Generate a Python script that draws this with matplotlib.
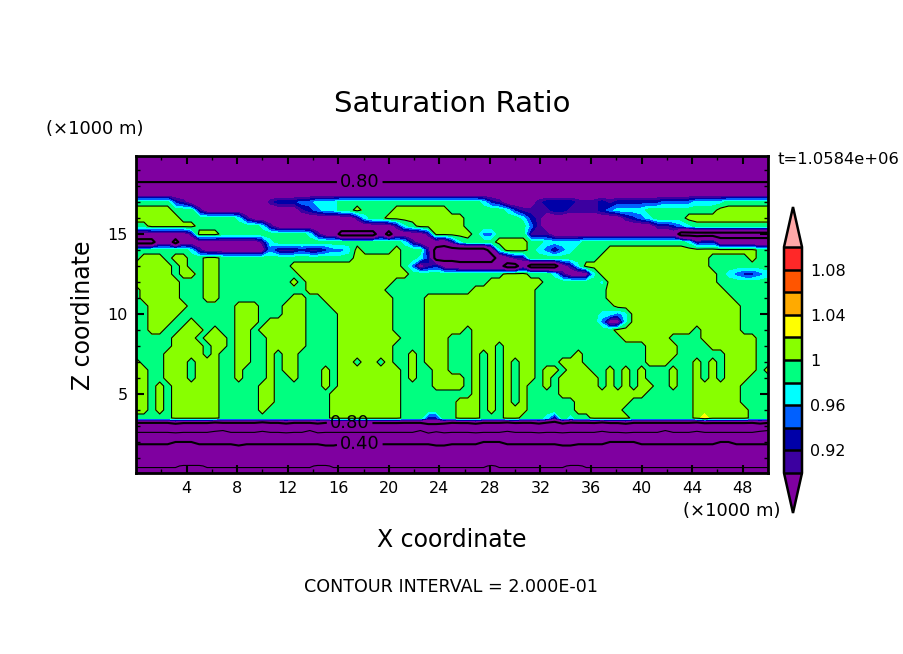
import numpy as np
import matplotlib
matplotlib.use('Agg')
import matplotlib.pyplot as plt
from matplotlib.colors import ListedColormap, BoundaryNorm

# colour bands of the filled contours
levels = [0.90, 0.92, 0.94, 0.96, 0.98, 1.00, 1.02, 1.04, 1.06, 1.08, 1.10]
colors = ['#3c00a0', '#0000a8', '#0060ff', '#00ffff', '#00ff80',
          '#88ff00', '#ffff00', '#ffaa00', '#ff5500', '#ff2828']
under_color = '#7f00a0'
over_color = '#ffa8a8'
thin_levels = [0.2, 0.6, 1.0]
thick_levels = [0.4, 0.8]
cbar_ticks = [0.92, 0.96, 1.0, 1.04, 1.08]
cbar_labels = ['0.92', '0.96', '1', '1.04', '1.08']
x_ticks = [4, 8, 12, 16, 20, 24, 28, 32, 36, 40, 44, 48]
z_ticks = [5, 10, 15]

# saturation ratio, one letter per grid point
ratio = {'A': .18, 'B': .205, 'a': .195, 'C': .27, 'D': .35, 'E': .42, 'e': .40, 'f': .44,
         'F': .58, 'g': .54, 'H': .68, 'I': .72, 'J': .64, 'G': .76,
         'q': .76, 'r': .84, 'p': .87, 'i': .91, 'n': .93, 'b': .95, 'c': .97,
         '.': .99, '#': 1.01, 'y': 1.03}

# top row is z = 20 km, one row every 0.5 km, one column every 0.625 km
rows = [
    'qqqqqqqqqq qqqqqqqqqq qqqqqqqqqq qqqqqqqqqq qqqqqqqqqq qqqqqqqqqq qqqqqqqqqq qqqqqqqqqq q',
    'qqqqqqqqqq qqqqqqqqqq qqqqqqqqqq qqqqqqqqqq qqqqqqqqqq qqqqqqqqqq qqqqqqqqqq qqqqqqqqqq q',
    'qqqqqqqqqq qqqqqqqqqq qqqqqqqqqq qqqqqqqqqq qqqqqqqqqq qqqqqqqqqq qqqqqqqqqq qqqqqqqqqq q',
    'qqqqqqqqqq qqqqqqqqqq qqqqqqqqqq qqqqqqqqqq qqqqqqqqqq qqqqqqqqqq qqqqqqqqqq qqqqqqqqqq q',
    'rrrrrrrrrr rrrrrrrrrr rrrrrrrrrr rrrrrrrrrr rrrrrrrrrr rrrrrrrrrr rrrrrrrrrr rrrrrrrrrr r',
    'pppppppppp pppppppppp pppppppppp pppppppppp pppppppppp pppppppppp pppppppppp pppppppppp p',
    '.....nippp pppppppinn nbbccc.... .......... ....cnippp pinnnniiin innnnnnbbb bcccc..... .',
    '#####...ip pppppppppp pinbcc..#. ...####### .......cni iiinniiiin bcccc..... ....###### #',
    '######.... ...cippppp ppppppppic ..######## ##.......c nipppppppp ppinbc.... ########## #',
    '..######.. ......cipp pppppppppp pppic.#### ##........ bipppppppp ppppppiinb c......... .',
    'pppppppi## #......... ..cippqqqq qpqppppi## ###.bb.... iiippppppp pppppppppq qqqqqqqqqq q',
    'qqqppqpppp ppppppic.. .......... ....cipppr ic....#### ..ccccc... .......... cinnrrrrrr r',
    '.......cip pppppppbii iniinbbc#. ...#...iqq qqqqqrc### .cbibc.... ########## #########. .',
    '.###.##..# #......... ........## ####..cnqq qqqqqqrpii .........# ########## ###.....#. .',
    '#####.#..# #......... ########## ####.bpinp prrrrrrqqp qqqqpic### ########## ###....... .',
    '#####.##.# #......... .######### #####..... .......### ...cipppc# ########## ####.cbnnb c',
    '######...# #......... #.######## ###....... .....##### ##.......c ########## ####...... .',
    '.#####...# #......... ..######## ##........ ...####### #......... ########## #####..... .',
    '.#####...# #......... ##..###### ###....### ########## #......... ########## ######.... .',
    '..#####... ...###...# ##...##### ###....### ########## #......... .######### #######... .',
    '..####.... ...###...# ##....#### ###....### ########## #........c cbc####### #######... .',
    '..###..#.. ...###.### ##....#### ###....### ########## #........b ppc####### #######... .',
    '..##..###. #..##.#### ##....#### ###....### ##.####### #......... .######### #.#####... .',
    '.....###.# ##.##..### ##....#### ####...### ...####### #......... ..######.. ..#######. .',
    '.....####. ##.##..### ##....#### ###....### ...###.### #......... .....####. ...######. .',
    '....#####. #..##..#.# #.....#### ###..#.### ...#.#.### #.....#... .....####. .....####. .',
    '#...###.## #..##..#.# #.....##.# #.#..#.### ...#.#.#.# #...###... .....###.. .#.#.####. .',
    '##..###.## #..#...#.# #...#.#### ####.#..## ...#.#.#.# #.##.###.. #.#.#...#. .#.#.####. #',
    '##..###.## #..#...#.. #...#.#### ####.#..## ##.#.#.#.# #.#.#####. #.#.#...#. .#.#.###.. .',
    '##.#.##### #.....##.. ....#.#### ####....## ##.#.#.#.# ..#.#####. #.#.##..#. .######... .',
    '##.#.##### #.....##.. .....##### ####...... ...#.#.#.# ....###### #####..... .######... .',
    '##.#.##### #.....##.. .....##### ####...... .###.#.#.# ......#### ###....... .######... .',
    '##.#.##### #.....#... .....##### ####...... .###.#.### ......#### ##........ .#######.. .',
    '.....##### #......... .....##### ####...nn. .###...##. ..ci.c..## ###....... .#y#####.. .',
    'HHHHHIHHHH JHHHHHJHHI HHHIHHHHHH HHHHHHHGGI HHHIHHHJHH HIHHIHHHHJ HHIHHHHHHH HJHHHHHHHI H',
    'FFFFFFFFFF FgFFFFFFFF FFgFFFFFFF FFFFFFgFgF FFFFFFFFFF FFFFFFFFFF FFFFFFFgFF FFFFFFFFFg g',
    'EEEEEeeeEE EEEfEEEEEE EEEEffEEEE EEEEEEEEff EEEEeeeEEE EEEEffEEEE eeeeEEEEEE EEEEeeEEEE E',
    'DDDDDDDDDD DDDDDDDDDD DDDDDDDDDD DDDDDDDDDD DDDDDDDDDD DDDDDDDDDD DDDDDDDDDD DDDDDDDDDD D',
    'CCCCCCCCCC CCCCCCCCCC CCCCCCCCCC CCCCCCCCCC CCCCCCCCCC CCCCCCCCCC CCCCCCCCCC CCCCCCCCCC C',
    'BBBBBBaaaB BBBBBBBBBB BBBaaBBBBB BBBBBBBBBB BBBBBaBBBB BBBBBaaBBB BBBBBBBBBB BBBBBBBBBB B',
    'AAAAAAAAAA AAAAAAAAAA AAAAAAAAAA AAAAAAAAAA AAAAAAAAAA AAAAAAAAAA AAAAAAAAAA AAAAAAAAAA A',
]

field = np.array([[ratio[c] for c in r.replace(' ', '')] for r in rows])
x = np.arange(field.shape[1]) * 0.625
z = 20 - np.arange(field.shape[0]) * 0.5

W, H = 904, 654


def px_axes(left, top, right, bottom):
    return fig.add_axes([left / W, 1 - bottom / H, (right - left) / W, (bottom - top) / H])


fig = plt.figure(figsize=(W / 100, H / 100), dpi=100)
ax = px_axes(136, 156, 768, 473)

cmap = ListedColormap(colors)
cmap.set_under(under_color)
cmap.set_over(over_color)
norm = BoundaryNorm(levels, cmap.N)

cf = ax.contourf(x, z, field, levels=levels, cmap=cmap, norm=norm, extend='both')
ax.contour(x, z, field, levels=thin_levels, colors='k', linewidths=0.8)
cs = ax.contour(x, z, field, levels=thick_levels, colors='k', linewidths=1.5)
ax.clabel(cs, fmt='%.2f', fontsize=13, inline=True, inline_spacing=3,
          manual=[(17.7, 18.3), (16.9, 3.1), (17.7, 1.9)])

ax.set_xlim(0, 50)
ax.set_ylim(0.06, 19.88)
ax.set_xticks(x_ticks)
ax.set_xticks(np.arange(2, 50, 4), minor=True)
ax.set_yticks(z_ticks)
ax.set_yticks([t for t in range(1, 20) if t % 5], minor=True)
ax.tick_params(which='major', direction='in', length=6, width=1.5, top=True, right=True,
               labelsize=11.5, pad=6)
ax.tick_params(which='minor', direction='in', length=3, width=1, top=True, right=True)
for s in ax.spines.values():
    s.set_linewidth(2)

txt = dict(color='k', ha='center', va='center')
fig.text(95 / W, 1 - 129 / H, '(\u00d71000 m)', fontsize=13, **txt)
fig.text(452 / W, 1 - 104 / H, 'Saturation Ratio', fontsize=21, **txt)
fig.text(732 / W, 1 - 511 / H, '(\u00d71000 m)', fontsize=13, **txt)
fig.text(452 / W, 1 - 540 / H, 'X coordinate', fontsize=17, **txt)
fig.text(83 / W, 1 - 315 / H, 'Z coordinate', fontsize=17, rotation=90, **txt)
fig.text(451 / W, 1 - 587 / H, 'CONTOUR INTERVAL = 2.000E-01', fontsize=12.6, **txt)
fig.text(838 / W, 1 - 160 / H, 't=1.0584e+06', fontsize=11.8, **txt)

cax = px_axes(784, 207, 802, 513)
cb = fig.colorbar(cf, cax=cax, extend='both', extendfrac=0.177, drawedges=True, spacing='uniform')
cb.set_ticks(cbar_ticks)
cb.set_ticklabels(cbar_labels)
cb.ax.tick_params(length=0, labelsize=11.5, pad=6)
cb.ax.minorticks_off()
cb.dividers.set_color('k')
cb.dividers.set_linewidth(1.8)
cb.outline.set_linewidth(1.8)

fig.savefig('out.png', dpi=100)
